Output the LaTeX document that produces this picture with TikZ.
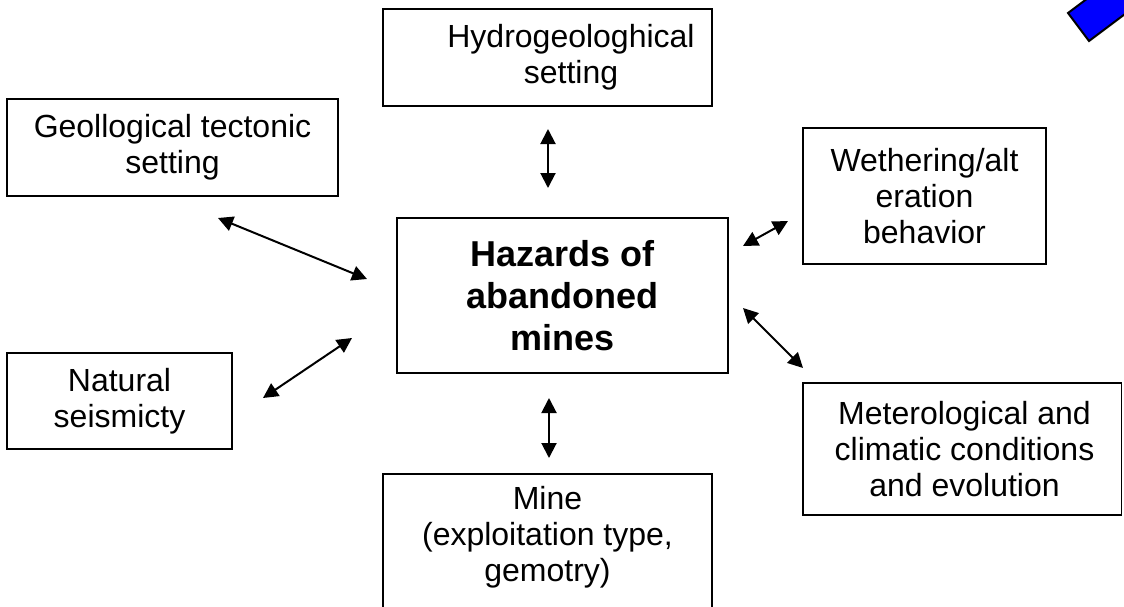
\documentclass[tikz,border=0pt]{standalone}
\usepackage{fontspec}
\setmainfont{Liberation Sans}
\usetikzlibrary{arrows.meta}
\begin{document}
\begin{tikzpicture}[x=1pt,y=-1pt,
  box/.style={draw, line width=1.5pt, inner sep=0pt},
  txt/.style={align=center, inner sep=0pt, font=\fontsize{32}{36}\selectfont},
  boldtxt/.style={align=center, inner sep=0pt, font=\fontsize{36}{42}\selectfont\bfseries},
  link/.style={line width=2pt, {Triangle[length=15pt,width=15pt]}-{Triangle[length=15pt,width=15pt]}}]
\useasboundingbox (0,0) rectangle (1124,606);
\clip (0,0) rectangle (1124,606);
\fill[white] (0,0) rectangle (1124,606);

% boxes
\node[box, minimum width=329pt, minimum height=97pt] (hydro) at (547.5,57.5) {};
\node[txt] (hydrot) at (571,57.5) {Hydrogeologhical\\setting};

\node[box, txt, minimum width=331pt, minimum height=97pt] (geo) at (172.5,147.5) {Geollogical tectonic\\setting};

\node[box, txt, minimum width=243pt, minimum height=136pt] (weth) at (924.5,196) {Wethering/alt\\eration\\behavior};

\node[box, boldtxt, minimum width=331pt, minimum height=155pt] (haz) at (562.5,295.5) {Hazards of\\abandoned\\mines};

\node[box, txt, minimum width=225pt, minimum height=96pt] (nat) at (119.5,401) {Natural\\seismicty};

\node[box, minimum width=318.5pt, minimum height=132pt] (met) at (962.25,449) {};
\node[txt] (mett) at (964.5,449) {Meterological and\\climatic conditions\\and evolution};

\node[box, minimum width=329pt, minimum height=166pt] (mine) at (547.5,557) {};
\node[txt] (minet) at (547.5,537) {Mine\\(exploitation type,\\gemotry)};

% connector end points
\coordinate (a1s) at (548,129); \coordinate (a1e) at (548,188);
\coordinate (a2s) at (218,218); \coordinate (a2e) at (367,279);
\coordinate (a3s) at (743,246); \coordinate (a3e) at (788,221);
\coordinate (a4s) at (743,308); \coordinate (a4e) at (803,368);
\coordinate (a5s) at (263,398); \coordinate (a5e) at (352,338);
\coordinate (a6s) at (549,398); \coordinate (a6e) at (549,458);

\draw[link] (a1s) -- (a1e);
\draw[link] (a2s) -- (a2e);
\draw[link] (a3s) -- (a3e);
\draw[link] (a4s) -- (a4e);
\draw[link] (a5s) -- (a5e);
\draw[link] (a6s) -- (a6e);

% blue shape at top right
\draw[line width=2pt, line join=miter, fill=blue] (1068,13) -- (1089,41) -- ++(160,-120) -- (1228,-107) -- cycle;
\end{tikzpicture}
\end{document}
